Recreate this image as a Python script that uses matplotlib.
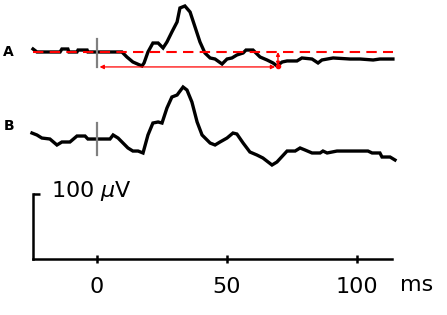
import numpy as np
import matplotlib
matplotlib.use('Agg')
from matplotlib import pyplot as plt

# trace A (time in ms, amplitude in uV relative to its own baseline)
t_a = [-24.6, -23.1, -14.2, -13.5, -11.2, -10.8, -7.7, -7.3, -3.8, -3.5, 9.6, 11.5,
       13.8, 17.3, 18.1, 19.6, 21.5, 23.5, 25.4, 26.9, 28.8, 30.8, 31.9, 33.8, 35.8,
       37.7, 39.6, 41.5, 43.5, 45.4, 48.1, 50.0, 51.9, 53.8, 56.2, 57.3, 60.0, 62.7,
       65.4, 67.7, 69.2, 71.2, 73.1, 76.9, 78.8, 82.7, 85.0, 86.5, 90.8, 97.3, 101.2,
       106.2, 108.8, 113.8]
v_a = [4.6, 0, 0, 4.6, 4.6, 0, 0, 3, 3, 0, 0, -7.7,
       -15.4, -21.5, -16.9, 0, 13.8, 13.8, 6.2, 15.4, 30.8, 46.2, 67.7, 70.8, 61.5,
       38.5, 15.4, -1.5, -9.2, -10.8, -18.5, -10.8, -9.2, -4.6, -1.5, 3, 3, -7.7,
       -12.3, -16.9, -21.5, -15.4, -13.8, -13.8, -9.2, -10.8, -16.9, -12.3, -9.2, -10.8, -10.8,
       -12.3, -10.8, -10.8]

# trace B
t_b = [-25.0, -23.1, -21.2, -18.1, -15.4, -13.5, -10.4, -7.7, -4.6, -3.5, 5.0, 6.2,
       8.1, 11.9, 13.8, 15.8, 17.7, 19.6, 21.5, 23.5, 25.0, 26.9, 28.8, 30.8, 33.1,
       34.6, 36.5, 38.5, 40.4, 43.5, 45.4, 47.3, 50.0, 52.3, 53.8, 56.2, 58.8, 61.5,
       63.8, 67.3, 69.2, 73.1, 76.2, 78.1, 80.0, 82.7, 85.8, 86.9, 88.5, 92.3, 104.2,
       105.8, 108.8, 109.6, 112.7, 114.6]
v_b = [9.2, 6.2, 1.5, 0, -9.2, -4.6, -4.6, 4.6, 4.6, 0, 0, 6.2,
       1.5, -13.8, -18.5, -18.5, -21.5, 6.2, 24.6, 26.2, 24.6, 47.7, 64.6, 67.7, 80.0,
       75.4, 56.9, 26.2, 6.2, -6.2, -9.2, -4.6, 1.5, 9.2, 7.7, -6.2, -20.0, -24.6,
       -29.2, -40.0, -35.4, -18.5, -18.5, -13.8, -16.9, -21.5, -21.5, -18.5, -21.5, -18.5, -18.5,
       -21.5, -21.5, -27.7, -27.7, -32.3]

offset_a = 318.5   # baseline of A on the page (uV above time axis)
offset_b = 184.6
latency = 68.5     # ms, marked by red arrow
drop = -21.0       # uV below baseline at that latency
scale_uv = 100
xticks = [0, 50, 100]

fig = plt.figure(figsize=(4.47, 3.15), dpi=100)
ax = fig.add_axes([0, 0, 1, 1])
ax.set_xlim(-37.3, 134.6)
ax.set_ylim(-86.2, 398.5)

# traces
ax.plot(t_a, np.array(v_a) + offset_a, color='black', lw=2.4, solid_joinstyle='miter')
ax.plot(t_b, np.array(v_b) + offset_b, color='black', lw=2.4, solid_joinstyle='miter')

# stimulus markers
ax.plot([0, 0], [offset_a + 20, offset_a - 23], color='gray', lw=1.6)
ax.plot([0, 0], [offset_b + 25, offset_b - 25], color='gray', lw=1.6)

# red baseline + latency arrows on A
ax.plot([t_a[0], t_a[-1]], [offset_a, offset_a], color='red', lw=1.5, dashes=(5, 3))
ax.annotate('', xy=(latency, offset_a - 23), xytext=(1, offset_a - 23),
            arrowprops=dict(arrowstyle='<|-|>', color='red', lw=0.9,
                            mutation_scale=6, shrinkA=0, shrinkB=0))
ax.annotate('', xy=(latency + 1.1, offset_a + drop), xytext=(latency + 1.1, offset_a),
            arrowprops=dict(arrowstyle='<|-|>', color='red', lw=1.0,
                            mutation_scale=5, shrinkA=0, shrinkB=0))
ax.plot(latency + 1.1, offset_a + drop, 'o', color='red', ms=3)

# labels
ax.text(-36, offset_a, 'A', fontsize=10, fontweight='bold', va='center')
ax.text(-36, offset_b + 20, 'B', fontsize=10, fontweight='bold', va='center')

# scale axes
for s in ['top', 'right']:
    ax.spines[s].set_visible(False)
ax.spines['bottom'].set_position(('data', 0))
ax.spines['bottom'].set_bounds(t_a[0], 113.5)
ax.spines['left'].set_position(('data', t_a[0]))
ax.spines['left'].set_bounds(0, scale_uv)
ax.spines['bottom'].set_linewidth(1.8)
ax.spines['left'].set_linewidth(1.8)
ax.set_xticks(xticks)
ax.set_xticklabels([str(x) for x in xticks], fontsize=16)
ax.tick_params(axis='x', direction='inout', length=6, width=1.8, pad=10)
ax.set_yticks([scale_uv])
ax.set_yticklabels([])
ax.tick_params(axis='y', direction='in', length=5, width=1.8)
ax.text(-17.5, 105, r'100 $\mu$V', fontsize=16, va='center')
ax.text(116.5, -40, 'ms', fontsize=16, va='center')

fig.savefig('out.png', dpi=100)
